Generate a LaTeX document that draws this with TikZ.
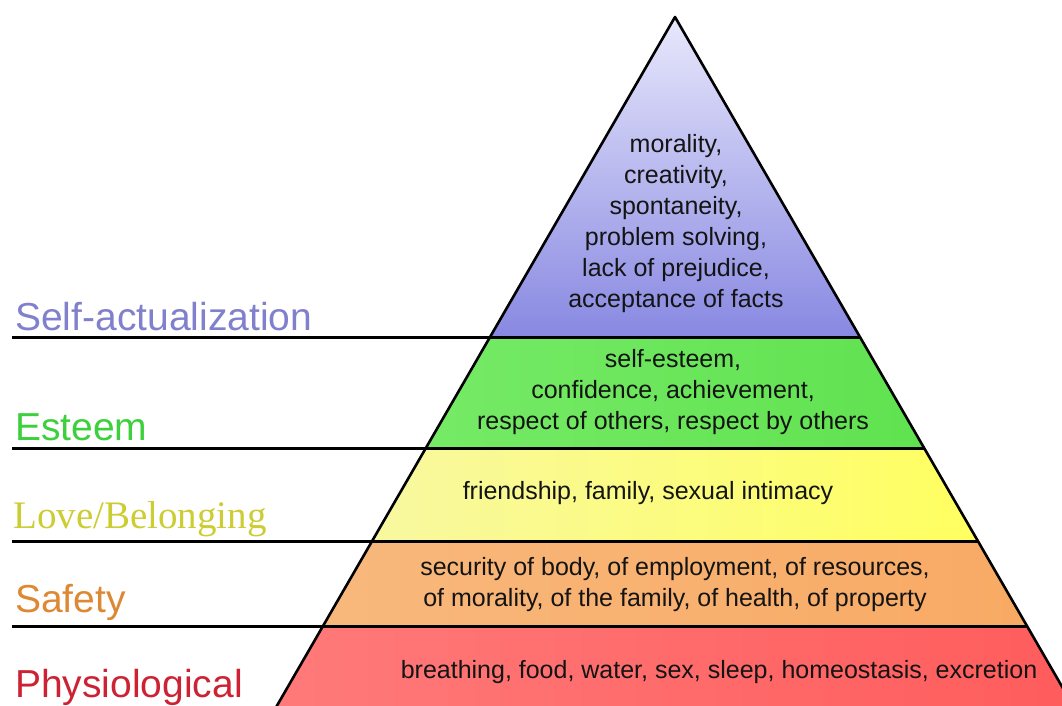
\documentclass[tikz,border=0pt]{standalone}
\usepackage{fontspec}
\setmainfont{Liberation Sans}
\newfontfamily\seriffam{Liberation Serif}
\definecolor{selfc}{RGB}{128,128,204}
\definecolor{esteemc}{RGB}{60,208,60}
\definecolor{lovec}{RGB}{204,204,51}
\definecolor{safetyc}{RGB}{221,136,51}
\definecolor{physc}{RGB}{204,34,51}
\begin{document}
\begin{tikzpicture}[x=1pt,y=-1pt,
  level/.style={font=\fontsize{39}{46}\selectfont, anchor=base west, inner sep=0pt},
  needs/.style={font=\fontsize{25}{31}\selectfont, align=center, inner sep=0pt, text=black!92},
  divider/.style={line width=3pt},
  outline/.style={line width=2.6pt, line join=round}]
\useasboundingbox (0,0) rectangle (1062,706);

% corners of the pyramid bands
\coordinate (apex) at (675,17);
\coordinate (l1) at (490,337);   \coordinate (r1) at (860,337);
\coordinate (l2) at (425.9,448); \coordinate (r2) at (924.1,448);
\coordinate (l3) at (372.1,541); \coordinate (r3) at (977.9,541);
\coordinate (l4) at (323,626);   \coordinate (r4) at (1027,626);
\coordinate (l5) at (273.3,712); \coordinate (r5) at (1076.7,712);

% left ends of the divider lines
\coordinate (s1) at (12,337);
\coordinate (s2) at (12,448);
\coordinate (s3) at (12,541);
\coordinate (s4) at (12,626);

% band fills
\shade[top color={rgb,255:red,232;green,232;blue,252}, bottom color={rgb,255:red,136;green,136;blue,226}]
  (apex) -- (r1) -- (l1) -- cycle;
\shade[left color={rgb,255:red,118;green,234;blue,102}, right color={rgb,255:red,96;green,226;blue,80}]
  (l1) -- (r1) -- (r2) -- (l2) -- cycle;
\shade[left color={rgb,255:red,248;green,248;blue,160}, right color={rgb,255:red,255;green,255;blue,96}]
  (l2) -- (r2) -- (r3) -- (l3) -- cycle;
\shade[left color={rgb,255:red,248;green,184;blue,124}, right color={rgb,255:red,248;green,170;blue,100}]
  (l3) -- (r3) -- (r4) -- (l4) -- cycle;
\shade[left color={rgb,255:red,255;green,122;blue,122}, right color={rgb,255:red,255;green,92;blue,92}]
  (l4) -- (r4) -- (r5) -- (l5) -- cycle;

% dividers
\draw[divider] (s1) -- (r1);
\draw[divider] (s2) -- (r2);
\draw[divider] (s3) -- (r3);
\draw[divider] (s4) -- (r4);

% outline
\draw[outline] (l5) -- (apex) -- (r5);

% level names
\node[level, text=selfc]   (nself)   at (15,330) {Self-actualization};
\node[level, text=esteemc] (nesteem) at (15,440) {Esteem};
\node[level, text=lovec, font=\seriffam\fontsize{39}{46}\selectfont] (nlove) at (13,528) {Love/Belonging};
\node[level, text=safetyc] (nsafety) at (15,612) {Safety};
\node[level, text=physc]   (nphys)   at (15,697) {Physiological};

% needs in each band
\node[needs] (tself) at (676,224) {morality,\\creativity,\\spontaneity,\\problem solving,\\lack of prejudice,\\acceptance of facts};
\node[needs] (testeem) at (673,392) {self-esteem,\\confidence, achievement,\\respect of others, respect by others};
\node[needs] (tlove) at (648,493) {friendship, family, sexual intimacy};
\node[needs] (tsafety) at (675,585) {security of body, of employment, of resources,\\of morality, of the family, of health, of property};
\node[needs] (tphys) at (719,672) {breathing, food, water, sex, sleep, homeostasis, excretion};
\end{tikzpicture}
\end{document}
